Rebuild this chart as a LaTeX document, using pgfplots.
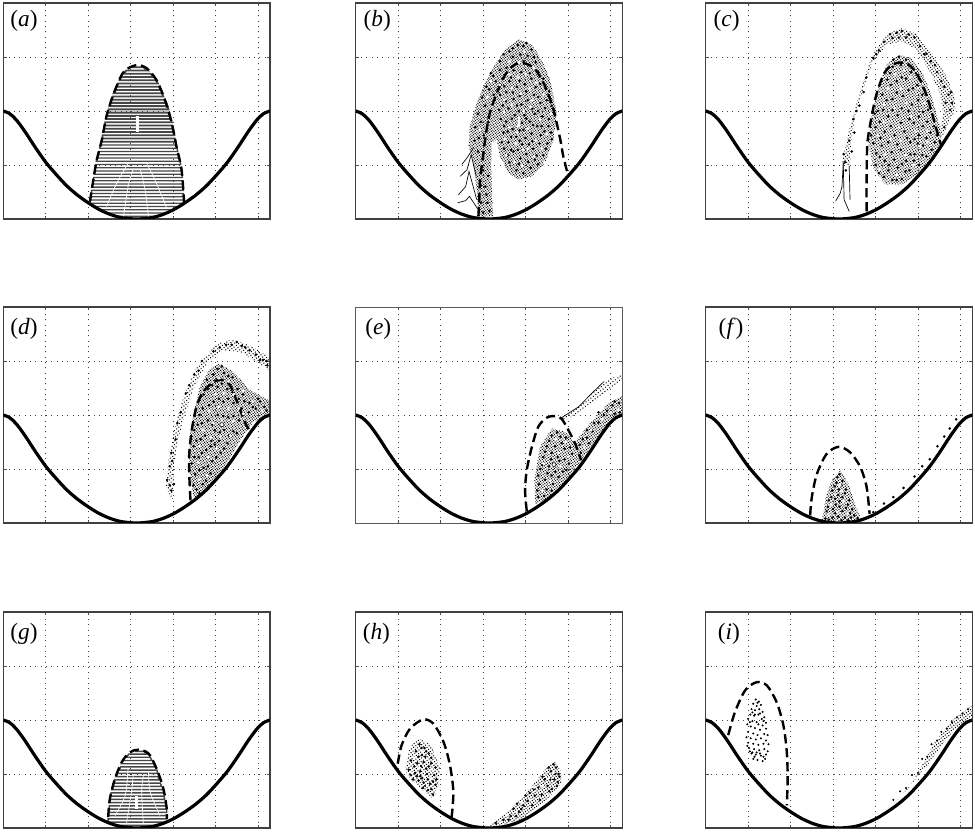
\documentclass[border=0pt]{standalone}
\usepackage{pgfplots}
\usepackage{pgfplotstable}
\usepackage{fontspec}
\usetikzlibrary{patterns.meta}
\setmainfont{Liberation Serif}
\pgfplotsset{compat=1.18}

\pgfplotstableread{
x y
0 2.00
0.15 1.95
0.30 1.84
0.50 1.63
0.75 1.33
1.00 1.05
1.25 0.82
1.50 0.61
1.75 0.44
2.00 0.30
2.25 0.18
2.50 0.09
2.75 0.03
3.00 0.005
3.14 0
3.28 0.005
3.53 0.03
3.78 0.09
4.03 0.18
4.28 0.30
4.53 0.44
4.78 0.61
5.03 0.82
5.28 1.05
5.53 1.33
5.78 1.63
5.98 1.84
6.13 1.95
6.283 2.00
}\potential

\tikzset{lab/.style={anchor=west, inner sep=0pt, font=\fontsize{17.5}{18}\selectfont}}
\pgfplotsset{
  panel/.style={
    scale only axis, width=200pt, height=162pt,
    anchor=south west,
    xmin=0, xmax=6.283, ymin=0, ymax=4,
    xtick={1,2,3,4,5,6}, ytick={1,2,3},
    xticklabels={}, yticklabels={},
    tick align=inside, major tick length=2.5pt,
    tick style={black!70, line width=0.6pt},
    axis line style={black!75, line width=0.9pt},
    grid=major,
    major grid style={black!75, line width=0.6pt, dash pattern=on 0.8pt off 3.2pt},
  },
  pot/.style={black, line width=2.4pt, smooth, no markers},
  sep/.style={black, line width=1.8pt, dash pattern=on 7pt off 3.5pt, smooth, tension=0.5, no markers},
  hatch/.style={black!72, no markers},
  cloud/.style={draw=none, pattern={Dots[radius=0.55pt, distance=#1, angle=37]}, pattern color=black},
  bk/.style={only marks, mark=*, mark size=0.75pt, black, mark options={draw=none, fill=black}},
  wh/.style={only marks, mark=*, mark size=0.8pt, white, mark options={draw=none, fill=white}},
  thin line/.style={black, line width=0.5pt, no markers},
  gap/.style={white, line width=0.5pt, smooth, no markers},
}

\begin{document}
\begin{tikzpicture}
\useasboundingbox (0,0) rectangle (731.25pt,624pt);

% (a)
\begin{axis}[panel, at={(2.5pt,459.75pt)}]
\addplot[hatch, line width=0.95pt] coordinates {
(2.62,0.05)(3.66,0.05)(3.86,0.11)(2.42,0.11)(2.28,0.17)(4.00,0.17)(4.12,0.23)(2.15,0.23)
(2.04,0.29)(4.24,0.29)(4.25,0.35)(2.05,0.35)(2.06,0.41)(4.25,0.41)(4.24,0.47)(2.07,0.47)
(2.08,0.53)(4.24,0.53)(4.23,0.59)(2.09,0.59)(2.10,0.65)(4.23,0.65)(4.22,0.71)(2.12,0.71)
(2.13,0.77)(4.22,0.77)(4.21,0.83)(2.14,0.83)(2.15,0.89)(4.20,0.89)(4.19,0.95)(2.17,0.95)
(2.18,1.01)(4.18,1.01)(4.16,1.07)(2.19,1.07)(2.21,1.13)(4.15,1.13)(4.13,1.19)(2.23,1.19)
(2.25,1.25)(4.11,1.25)(4.09,1.31)(2.27,1.31)(2.29,1.37)(4.07,1.37)};
\addplot[hatch, line width=1.35pt] coordinates {
(2.31,1.43)(4.06,1.43)(4.04,1.49)(2.33,1.49)(2.34,1.55)(4.03,1.55)(4.02,1.61)(2.36,1.61)
(2.37,1.67)(4.00,1.67)(3.98,1.73)(2.39,1.73)(2.40,1.79)(3.97,1.79)(3.95,1.85)(2.42,1.85)
(2.43,1.91)(3.93,1.91)(3.91,1.97)(2.46,1.97)(2.48,2.03)(3.89,2.03)(3.87,2.09)(2.50,2.09)
(2.53,2.15)(3.84,2.15)(3.80,2.21)(2.55,2.21)(2.58,2.27)(3.77,2.27)(3.74,2.33)(2.60,2.33)
(2.64,2.39)(3.70,2.39)(3.67,2.45)(2.67,2.45)(2.70,2.51)(3.64,2.51)(3.60,2.57)(2.74,2.57)
(2.77,2.63)(3.54,2.63)(3.47,2.69)(2.82,2.69)(2.90,2.75)(3.40,2.75)(3.30,2.81)(3.00,2.81)};
\addplot[gap] coordinates {(2.83,0.04)(2.94,0.60)(3.05,0.91)};
\addplot[gap] coordinates {(3.42,0.04)(3.34,0.54)(3.23,0.91)};
\addplot[gap] coordinates {(2.43,0.23)(2.67,0.66)(2.94,1.03)};
\addplot[gap] coordinates {(3.85,0.20)(3.61,0.66)(3.38,1.03)};
\addplot[white, line width=2.2pt, no markers] coordinates {(3.16,1.62)(3.16,1.90)};
\addplot[sep] coordinates {(2.04,0.32)(2.12,0.72)(2.20,1.09)(2.32,1.46)(2.43,1.90)(2.59,2.30)(2.79,2.67)(2.94,2.79)(3.16,2.85)(3.38,2.79)(3.61,2.57)(3.81,2.20)(3.97,1.77)(4.08,1.34)(4.20,0.91)(4.26,0.29)};
\addplot[pot] table {\potential};
\node[lab] at (axis cs:0.16,3.67) {(\textit{a})};
\end{axis}

% (b)
\begin{axis}[panel, at={(266.8pt,459.75pt)}]
\addplot[cloud=1.5pt] coordinates {(2.89,0.05)(2.85,0.54)(2.77,1.04)(2.66,1.35)(2.69,1.72)(2.85,2.15)(3.05,2.52)(3.28,2.86)(3.56,3.17)(3.83,3.33)(4.15,3.23)(4.38,2.95)(4.58,2.58)(4.74,1.96)(4.66,1.47)(4.46,1.04)(4.15,0.79)(3.83,0.73)(3.60,0.85)(3.40,1.16)(3.32,1.47)(3.20,1.41)(3.19,0.98)(3.21,0.54)(3.24,0.05)} -- cycle;
\addplot[bk] coordinates {
(3.50,1.30)(3.62,1.05)(3.78,0.90)(3.95,0.85)(4.12,0.95)(4.30,1.02)(4.42,1.18)(4.52,1.40)(4.60,1.60)(4.55,1.85)
(3.48,1.60)(3.60,1.42)(3.72,1.25)(3.88,1.12)(4.02,1.20)(4.18,1.30)(4.33,1.40)(4.44,1.62)(3.42,1.85)(3.55,1.80)
(3.70,1.66)(3.86,1.45)(4.00,1.50)(4.14,1.58)(4.28,1.72)(4.40,1.90)(4.62,2.10)(4.50,2.20)(3.46,2.10)(3.60,2.05)
(3.75,1.92)(3.92,1.78)(4.22,1.95)(4.35,2.15)(4.48,2.42)(3.40,2.30)(3.55,2.35)(3.72,2.22)(3.90,2.12)(4.05,2.20)
(4.20,2.30)(4.35,2.50)(3.30,2.55)(3.45,2.60)(3.62,2.55)(3.80,2.45)(3.98,2.50)(4.14,2.60)(4.30,2.72)(3.55,2.80)
(3.72,2.75)(3.90,2.72)(4.08,2.85)(3.70,3.00)(3.88,3.05)(4.05,3.02)(4.20,3.00)(3.82,3.22)(3.95,3.20)(3.48,3.05)
(2.90,1.50)(2.95,1.80)(3.05,2.10)(3.15,2.40)(3.25,2.30)(3.00,1.20)(3.00,0.90)(3.05,0.60)(3.10,0.30)(2.95,0.30)
(3.58,1.18)(3.82,1.28)(4.08,1.38)(4.22,1.10)(3.95,1.65)(3.66,1.52)(4.36,1.55)(3.84,2.00)(4.10,1.80)(4.30,2.00)
(3.44,1.42)(3.66,1.28)(3.84,1.02)(4.06,1.06)(4.26,1.18)(4.48,1.30)(4.62,1.48)(3.58,1.62)(3.78,1.52)(3.92,1.38)
(4.16,1.44)(4.38,1.72)(4.54,1.72)(3.50,1.72)(3.68,1.86)(3.86,1.64)(4.02,1.86)(4.18,1.74)(4.46,2.05)(3.38,2.02)
(3.54,2.18)(3.80,2.10)(3.98,1.92)(4.16,2.04)(4.30,2.26)(4.56,2.36)(3.34,2.40)(3.50,2.46)(3.70,2.34)(3.86,2.28)
(4.02,2.36)(4.24,2.44)(4.42,2.60)(3.24,2.65)(3.40,2.76)(3.66,2.62)(3.86,2.56)(4.10,2.70)(4.24,2.90)(3.62,3.10)
(3.78,2.88)(3.96,2.92)(4.14,3.14)(4.02,3.26)(3.70,3.16)(3.40,2.92)(3.18,2.70)(3.08,2.45)(2.98,2.25)(2.88,1.95)
(2.82,1.70)(2.80,1.45)(2.88,1.25)(3.02,1.55)(3.12,1.80)(3.12,0.80)(3.08,0.45)(3.15,0.15)(3.00,0.12)(2.95,0.62)};
\addplot[wh] coordinates {
(3.55,1.18)(3.74,1.05)(3.92,0.98)(4.20,1.16)(4.38,1.30)(4.50,1.58)(3.52,1.48)(3.78,1.40)(4.06,1.30)(4.24,1.45)
(3.62,1.70)(3.82,1.72)(4.05,1.68)(4.34,1.85)(3.50,1.98)(3.68,2.12)(3.96,2.00)(4.12,2.08)(4.42,2.30)(3.50,2.20)
(3.68,2.42)(3.88,2.32)(4.10,2.42)(4.26,2.52)(3.40,2.48)(3.62,2.68)(3.82,2.62)(4.00,2.68)(4.20,2.80)(3.84,2.90)
(3.62,2.92)(3.98,3.10)(3.10,2.25)(2.92,1.65)(3.18,2.55)(4.60,1.95)(4.44,1.05)(3.95,1.28)(3.80,1.60)(4.15,2.20)};
\addplot[white, line width=2pt, no markers] coordinates {(3.85,1.72)(3.85,1.88)};
\addplot[thin line] coordinates {(2.40,0.30)(2.59,0.34)(2.68,0.42)(2.87,0.19)};
\addplot[thin line] coordinates {(2.42,0.45)(2.59,0.60)(2.67,0.88)(2.85,0.36)};
\addplot[thin line] coordinates {(2.46,0.79)(2.62,0.91)(2.72,1.19)(2.84,0.79)};
\addplot[thin line] coordinates {(2.50,1.01)(2.62,1.13)(2.77,1.31)};
\addplot[sep] coordinates {(2.89,0.05)(2.91,0.36)(2.93,0.73)(2.99,1.10)(3.05,1.47)(3.14,1.90)(3.28,2.24)(3.52,2.67)(3.75,2.86)(3.99,2.88)(4.23,2.77)(4.46,2.46)(4.66,2.02)(4.82,1.47)(4.89,1.16)(5.00,0.82)};
\addplot[pot] table {\potential};
\node[lab] at (axis cs:0.18,3.67) {(\textit{b})};
\end{axis}

% (c)
\begin{axis}[panel, at={(529.3pt,459.75pt)}]
\addplot[cloud=1.9pt] coordinates {(3.21,1.04)(3.36,1.59)(3.60,2.27)(3.91,3.01)(4.23,3.38)(4.58,3.54)(4.93,3.44)(5.33,3.07)(5.68,2.64)(5.86,2.27)(5.88,2.02)(5.72,1.78)(5.55,1.47)(5.52,1.65)(5.60,1.96)(5.52,2.33)(5.25,2.77)(4.97,3.14)(4.62,3.29)(4.27,3.23)(3.91,2.89)(3.72,2.43)(3.52,1.93)(3.42,1.41)(3.40,0.98)} -- cycle;
\addplot[cloud=1.6pt] coordinates {(4.54,3.04)(4.85,2.98)(5.13,2.67)(5.33,2.27)(5.52,1.69)(5.55,1.41)(5.25,1.04)(4.93,0.79)(4.62,0.64)(4.23,0.64)(3.95,0.94)(3.83,1.41)(3.91,1.90)(4.07,2.46)(4.27,2.86)} -- cycle;
\addplot[bk] coordinates {
(4.00,1.00)(4.20,0.78)(4.40,0.72)(4.62,0.74)(4.80,0.90)(5.02,1.00)(5.20,1.16)(5.40,1.42)(4.10,1.15)(4.32,1.00)
(4.52,0.95)(4.72,1.08)(4.92,1.20)(5.12,1.36)(5.30,1.60)(3.95,1.40)(4.15,1.36)(4.38,1.24)(4.60,1.28)(4.82,1.42)
(5.02,1.55)(5.22,1.80)(4.00,1.70)(4.22,1.62)(4.45,1.55)(4.68,1.62)(4.90,1.78)(5.12,1.98)(5.30,2.05)(4.06,2.00)
(4.30,1.90)(4.52,1.92)(4.78,2.00)(5.00,2.20)(5.20,2.30)(4.16,2.30)(4.40,2.22)(4.65,2.28)(4.88,2.42)(5.08,2.55)
(4.28,2.58)(4.50,2.55)(4.72,2.60)(4.95,2.70)(4.40,2.82)(4.60,2.85)(4.78,2.85)(4.55,3.00)
(3.38,1.45)(3.48,1.85)(3.62,2.10)(3.78,2.62)(3.95,2.98)(4.20,3.28)(4.50,3.45)(4.78,3.42)(5.05,3.20)(5.30,2.92)
(5.55,2.55)(5.72,2.30)(5.76,2.02)(5.62,1.70)(4.40,3.35)(4.72,3.36)(5.15,3.05)(5.45,2.72)(3.25,1.20)(3.30,0.90)
(4.08,0.85)(4.30,0.90)(4.50,0.72)(4.70,0.88)(4.90,1.08)(5.10,1.18)(5.32,1.28)(5.45,1.55)(4.02,1.22)(4.22,1.08)
(4.44,1.10)(4.62,1.02)(4.82,1.20)(5.00,1.40)(5.20,1.50)(5.38,1.72)(3.90,1.55)(4.12,1.50)(4.30,1.42)(4.52,1.38)
(4.74,1.50)(4.92,1.48)(5.12,1.72)(4.10,1.80)(4.36,1.72)(4.60,1.78)(4.80,1.85)(5.02,1.90)(5.24,2.02)(3.98,1.95)
(4.18,2.02)(4.40,2.02)(4.62,2.05)(4.86,2.12)(5.10,2.30)(4.26,2.20)(4.50,2.34)(4.78,2.38)(4.98,2.48)(4.36,2.48)
(4.62,2.62)(4.84,2.72)(4.34,2.70)(4.72,2.95)(4.42,2.95)
(3.44,1.25)(3.55,2.00)(3.72,2.35)(3.86,2.80)(4.08,3.12)(4.34,3.42)(4.62,3.48)(4.92,3.36)(5.20,3.06)(5.40,2.85)
(5.62,2.45)(5.80,2.15)(5.78,2.35)(5.65,2.15)(4.55,3.36)(4.02,3.05)(3.50,1.60)(3.28,1.05)};
\addplot[wh] coordinates {
(4.10,0.92)(4.50,0.82)(4.90,1.00)(5.22,1.42)(4.22,1.20)(4.70,1.18)(5.05,1.35)(4.05,1.55)(4.35,1.48)(4.60,1.45)
(4.95,1.62)(5.22,1.62)(4.20,1.80)(4.55,1.70)(4.85,1.90)(5.15,2.15)(4.20,2.12)(4.45,2.05)(4.72,2.15)(5.00,2.42)
(4.30,2.42)(4.60,2.42)(4.82,2.62)(4.45,2.68)(4.68,2.75)(3.60,2.30)(3.85,2.80)(4.30,3.22)(4.88,3.30)(5.42,2.60)};
\addplot[thin line] coordinates {(3.06,0.33)(3.17,0.48)(3.21,0.60)(3.24,1.04)};
\addplot[thin line] coordinates {(3.38,0.14)(3.26,0.36)(3.24,1.04)};
\addplot[thin line] coordinates {(3.40,0.36)(3.38,0.98)};
\addplot[sep] coordinates {(3.79,0.14)(3.79,0.73)(3.81,1.41)(3.91,1.90)(4.03,2.33)(4.23,2.73)(4.50,2.89)(4.78,2.86)(5.01,2.64)(5.21,2.27)(5.33,1.96)(5.44,1.65)(5.55,1.35)};
\addplot[pot] table {\potential};
\node[lab] at (axis cs:0.18,3.67) {(\textit{c})};
\end{axis}

% (d)
\begin{axis}[panel, at={(2.5pt,231.75pt)}]
\addplot[cloud=2.1pt] coordinates {(3.82,0.67)(3.89,1.16)(4.00,1.65)(4.24,2.33)(4.55,2.89)(5.03,3.32)(5.42,3.40)(5.89,3.26)(6.27,3.07)(6.27,2.83)(5.97,2.98)(5.58,3.17)(5.18,3.20)(4.79,2.95)(4.48,2.49)(4.28,2.02)(4.12,1.53)(4.02,1.04)(3.99,0.42)} -- cycle;
\addplot[cloud=1.5pt] coordinates {(4.48,0.48)(4.38,1.04)(4.40,1.65)(4.48,2.02)(4.63,2.52)(4.87,2.86)(5.10,2.95)(5.42,2.80)(5.81,2.46)(6.27,2.27)(6.27,1.99)(5.89,1.87)(5.58,1.53)(5.26,1.10)(4.95,0.76)(4.59,0.45)} -- cycle;
\addplot[bk] coordinates {
(4.55,0.62)(4.70,0.72)(4.88,0.92)(4.52,0.90)(4.72,1.02)(4.92,1.14)(5.12,1.30)(4.50,1.22)(4.68,1.30)(4.88,1.42)
(5.08,1.52)(5.28,1.48)(4.55,1.52)(4.75,1.62)(4.98,1.72)(5.20,1.72)(5.42,1.70)(4.58,1.82)(4.82,1.90)(5.05,2.00)
(5.30,1.96)(5.55,1.90)(5.78,2.05)(4.70,2.12)(4.95,2.25)(5.18,2.25)(5.42,2.22)(5.68,2.25)(5.95,2.12)(6.15,2.15)
(4.82,2.48)(5.05,2.52)(5.28,2.48)(5.52,2.48)(4.95,2.75)(5.20,2.78)(5.40,2.70)(6.05,2.25)
(3.86,0.80)(3.92,1.05)(3.96,1.30)(4.10,1.85)(4.30,2.40)(4.60,2.82)(4.95,3.18)(5.38,3.30)(5.70,3.25)(5.95,3.12)
(6.12,3.02)(6.22,2.92)(5.62,3.28)(4.02,0.72)(3.96,0.60)
(4.62,0.55)(4.78,0.78)(4.48,0.70)(4.62,0.98)(4.82,1.05)(5.02,1.22)(4.44,1.10)(4.60,1.22)(4.78,1.35)(4.98,1.45)
(5.20,1.38)(4.48,1.42)(4.65,1.55)(4.90,1.52)(5.10,1.68)(5.32,1.62)(5.50,1.66)(4.50,1.72)(4.68,1.85)(4.92,1.82)
(5.18,1.98)(5.42,1.98)(5.62,2.12)(4.62,2.00)(4.85,2.18)(5.08,2.30)(5.30,2.30)(5.55,2.30)(5.80,2.22)(6.00,2.30)
(6.20,2.08)(4.72,2.38)(4.92,2.55)(5.15,2.58)(5.40,2.42)(5.65,2.38)(5.88,2.15)(5.05,2.85)(5.30,2.72)(4.80,2.65)(5.15,2.90)
(3.92,0.70)(3.98,1.15)(4.06,1.55)(4.18,2.05)(4.38,2.55)(4.68,3.00)(5.10,3.25)(5.50,3.35)(5.80,3.20)(6.05,3.02)
(6.20,3.00)(5.25,3.30)(4.50,2.75)};
\addplot[wh] coordinates {
(4.62,0.80)(4.80,0.88)(4.60,1.12)(4.82,1.22)(5.02,1.38)(4.62,1.42)(4.88,1.58)(5.12,1.60)(5.35,1.62)(4.70,1.72)
(4.95,1.85)(5.15,1.90)(5.42,1.88)(5.65,2.02)(4.85,2.08)(5.08,2.15)(5.30,2.12)(5.55,2.12)(5.88,2.25)(5.00,2.38)
(5.20,2.40)(5.42,2.38)(5.65,2.45)(5.08,2.68)(5.30,2.62)(6.10,2.08)};
\addplot[only marks, mark=*, mark size=1.6pt, mark options={draw=none, fill=white}] coordinates {(5.15,1.82)};
\addplot[sep] coordinates {(4.41,0.42)(4.38,0.91)(4.38,1.28)(4.44,1.72)(4.55,2.15)(4.71,2.43)(4.95,2.61)(5.14,2.65)(5.34,2.55)(5.51,2.24)(5.69,1.87)(5.80,1.72)};
\addplot[pot] table {\potential};
\node[lab] at (axis cs:0.16,3.60) {(\textit{d})};
\end{axis}

% (e)
\begin{axis}[panel, at={(266.8pt,231.75pt)}, axis line style={black!65, line width=0.5pt}]
\addplot[cloud=2.3pt] coordinates {(4.85,1.95)(5.25,2.15)(5.56,2.40)(5.88,2.61)(6.28,2.78)(6.28,2.67)(5.95,2.46)(5.64,2.24)(5.25,2.04)(4.89,1.89)} -- cycle;
\addplot[cloud=1.55pt] coordinates {(4.23,0.35)(4.21,0.79)(4.34,1.41)(4.62,1.75)(4.93,1.69)(5.17,1.50)(5.48,1.81)(5.95,2.21)(6.28,2.36)(6.28,1.99)(5.88,1.78)(5.40,1.25)(4.93,0.76)(4.46,0.42)} -- cycle;
\addplot[bk] coordinates {
(4.30,0.48)(4.32,0.72)(4.50,0.62)(4.65,0.72)(4.35,1.00)(4.52,0.92)(4.70,0.95)(4.88,0.95)(4.42,1.22)(4.60,1.18)
(4.80,1.15)(5.02,1.10)(4.50,1.42)(4.70,1.42)(4.92,1.38)(5.10,1.28)(4.62,1.62)(4.82,1.60)(5.28,1.45)(5.45,1.58)
(5.62,1.85)(5.85,2.00)(6.05,2.18)(6.20,2.22)(5.35,1.55)(5.72,2.05)(6.10,2.02)
(4.28,0.60)(4.44,0.50)(4.62,0.60)(4.78,0.85)(4.30,0.88)(4.46,0.80)(4.62,0.88)(4.96,0.98)(4.40,1.08)(4.56,1.05)
(4.76,1.22)(4.92,1.18)(4.46,1.32)(4.62,1.30)(4.85,1.48)(5.05,1.40)(4.56,1.52)(4.75,1.68)(4.95,1.58)(5.30,1.30)
(5.50,1.48)(5.58,1.70)(5.72,1.86)(5.92,2.08)(6.10,2.25)(6.22,2.05)(5.45,1.72)};
\addplot[wh] coordinates {
(4.40,0.60)(4.58,0.78)(4.42,1.10)(4.62,1.05)(4.82,1.05)(4.55,1.30)(4.78,1.30)(5.00,1.22)(4.72,1.55)(4.95,1.50)
(5.38,1.40)(5.55,1.72)(5.80,1.92)(6.00,2.05)(6.18,2.10)};
\addplot[only marks, mark=*, mark size=1.5pt, mark options={draw=none, fill=white}] coordinates {(4.67,1.08)};
\addplot[thin line] coordinates {(4.85,1.95)(5.25,2.15)(5.56,2.40)(5.85,2.62)};
\addplot[sep] coordinates {(4.03,0.22)(3.99,0.60)(4.03,0.98)(4.15,1.41)(4.30,1.78)(4.50,1.95)(4.70,1.98)(4.85,1.93)(5.01,1.72)(5.17,1.47)(5.31,1.16)};
\addplot[pot] table {\potential};
\node[lab] at (axis cs:0.22,3.60) {(\textit{e})};
\end{axis}

% (f)
\begin{axis}[panel, at={(529.3pt,231.75pt)}]
\addplot[cloud=1.6pt] coordinates {(3.18,0.98)(3.36,0.73)(3.52,0.36)(3.64,0.11)(3.52,0.04)(2.73,0.04)(2.77,0.17)(2.83,0.48)(2.97,0.79)} -- cycle;
\addplot[bk] coordinates {
(3.15,0.90)(3.08,0.75)(3.22,0.78)(2.98,0.60)(3.14,0.62)(3.30,0.62)(2.90,0.42)(3.05,0.45)(3.22,0.48)(3.38,0.42)
(2.85,0.22)(3.00,0.26)(3.15,0.30)(3.30,0.28)(3.45,0.25)(2.82,0.08)(2.98,0.10)(3.12,0.12)(3.28,0.10)(3.42,0.10)(3.58,0.09)
(3.10,0.85)(3.20,0.70)(3.04,0.68)(3.12,0.52)(3.28,0.55)(2.96,0.48)(3.15,0.40)(3.35,0.34)(2.88,0.30)(3.06,0.34)
(3.22,0.22)(3.40,0.18)(2.90,0.06)(3.05,0.18)(3.20,0.05)(3.35,0.05)(3.50,0.14)
(3.95,0.20)(4.20,0.36)(4.42,0.48)(4.66,0.65)(4.92,0.86)(5.10,1.05)(5.28,1.18)(5.46,1.42)(5.62,1.60)(5.75,1.75)(5.90,1.92)};
\addplot[wh] coordinates {
(3.17,0.70)(3.05,0.52)(3.25,0.40)(2.95,0.34)(3.10,0.20)(3.34,0.18)(2.90,0.14)(3.20,0.60)};
\addplot[sep] coordinates {(2.46,0.14)(2.50,0.48)(2.62,0.91)(2.85,1.28)(3.13,1.41)(3.40,1.31)(3.64,1.04)(3.79,0.67)(3.86,0.17)};
\addplot[pot] table {\potential};
\node[lab] at (axis cs:0.30,3.60) {(\textit{f})};
\end{axis}

% (g)
\begin{axis}[panel, at={(2.5pt,3pt)}]
\addplot[hatch, line width=1.1pt] coordinates {
(2.66,0.05)(3.64,0.05)(3.83,0.11)(2.47,0.11)(2.47,0.17)(3.85,0.17)(3.85,0.23)(2.47,0.23)
(2.48,0.29)(3.85,0.29)(3.85,0.35)(2.49,0.35)(2.50,0.41)(3.83,0.41)(3.82,0.47)(2.50,0.47)
(2.51,0.53)(3.80,0.53)(3.79,0.59)(2.52,0.59)(2.54,0.65)(3.78,0.65)(3.77,0.71)(2.56,0.71)
(2.58,0.77)(3.73,0.77)(3.70,0.83)(2.60,0.83)(2.62,0.89)(3.67,0.89)(3.65,0.95)(2.65,0.95)
(2.69,1.01)(3.64,1.01)(3.62,1.07)(2.73,1.07)(2.76,1.13)(3.58,1.13)(3.54,1.19)(2.78,1.19)
(2.83,1.25)(3.50,1.25)(3.46,1.31)(2.89,1.31)(2.96,1.37)(3.42,1.37)(3.30,1.42)(3.10,1.42)};
\addplot[gap] coordinates {(2.90,0.08)(3.02,0.67)(3.06,0.98)};
\addplot[gap] coordinates {(3.30,0.08)(3.26,0.67)(3.30,0.98)};
\addplot[gap] coordinates {(2.63,0.23)(2.87,0.60)(2.94,1.10)};
\addplot[gap] coordinates {(3.69,0.23)(3.46,0.67)(3.42,1.04)};
\addplot[white, line width=2.2pt, no markers] coordinates {(3.14,0.36)(3.14,0.60)};
\addplot[sep] coordinates {(2.47,0.20)(2.51,0.54)(2.63,0.91)(2.79,1.22)(2.98,1.40)(3.18,1.45)(3.42,1.38)(3.61,1.10)(3.77,0.73)(3.85,0.36)(3.85,0.17)};
\addplot[pot] table {\potential};
\node[lab] at (axis cs:0.16,3.60) {(\textit{g})};
\end{axis}

% (h)
\begin{axis}[panel, at={(266.8pt,3pt)}]
\addplot[cloud=2.0pt] coordinates {(1.52,1.65)(1.79,1.53)(1.99,1.10)(1.95,0.79)(1.83,0.54)(1.63,0.67)(1.32,0.88)(1.16,1.07)(1.24,1.41)(1.36,1.59)} -- cycle;
\addplot[cloud=1.8pt] coordinates {(3.13,0.04)(3.52,0.27)(3.91,0.54)(4.23,0.85)(4.54,1.16)(4.70,1.22)(4.84,1.04)(4.84,0.82)(4.46,0.48)(3.91,0.17)(3.44,0.05)} -- cycle;
\addplot[bk] coordinates {
(1.50,1.55)(1.62,1.48)(1.42,1.42)(1.56,1.35)(1.72,1.38)(1.30,1.25)(1.45,1.20)(1.60,1.22)(1.78,1.20)(1.88,1.12)
(1.25,1.08)(1.40,1.02)(1.52,1.05)(1.68,1.00)(1.85,0.98)(1.35,0.90)(1.48,0.88)(1.60,0.84)(1.75,0.82)(1.88,0.80)
(1.58,0.74)(1.70,0.70)(1.82,0.62)(1.66,1.10)(1.52,0.96)(1.56,0.92)
(3.30,0.09)(3.48,0.15)(3.65,0.22)(3.72,0.36)(3.85,0.30)(3.95,0.42)(4.05,0.50)(4.10,0.65)(4.22,0.60)(4.30,0.75)
(4.38,0.62)(4.45,0.90)(4.52,0.78)(4.60,1.05)(4.68,0.90)(4.72,1.12)(4.78,1.00)(4.62,0.72)(4.76,0.85)(3.80,0.45)
(1.55,1.48)(1.66,1.42)(1.48,1.32)(1.64,1.32)(1.78,1.30)(1.38,1.14)(1.54,1.14)(1.72,1.14)(1.90,0.90)(1.30,0.98)
(1.44,0.96)(1.70,0.90)(1.82,0.86)(1.64,0.78)(1.78,0.72)
(3.60,0.15)(3.78,0.22)(3.90,0.35)(4.00,0.60)(4.16,0.42)(4.20,0.72)(4.34,0.52)(4.40,0.95)(4.56,0.68)(4.58,0.90)
(4.70,1.00)(4.74,0.78)(4.80,0.95)(4.55,1.12)(4.66,1.18)};
\addplot[wh] coordinates {
(1.58,1.42)(1.38,1.30)(1.68,1.28)(1.50,1.12)(1.80,1.08)(1.32,1.02)(1.62,0.95)(1.78,0.92)(1.68,0.78)
(3.40,0.10)(3.58,0.25)(3.78,0.30)(3.90,0.48)(4.12,0.52)(4.20,0.75)(4.40,0.78)(4.55,0.92)(4.66,1.02)(4.52,0.62)};
\addplot[sep] coordinates {(0.99,1.19)(1.08,1.53)(1.28,1.84)(1.59,2.01)(1.83,1.93)(2.07,1.59)(2.22,1.16)(2.30,0.67)(2.26,0.20)};
\addplot[pot] table {\potential};
\node[lab] at (axis cs:0.16,3.60) {(\textit{h})};
\end{axis}

% (i)
\begin{axis}[panel, at={(529.3pt,3pt)}]
\addplot[cloud=1.9pt] coordinates {(4.30,0.36)(4.78,0.73)(5.09,1.16)(5.40,1.59)(5.80,1.99)(6.28,2.27)(6.28,2.06)(5.88,1.84)(5.56,1.53)(5.25,1.19)(4.85,0.82)(4.46,0.48)} -- cycle;
\addplot[only marks, mark=*, mark size=0.55pt, mark options={draw=none, fill=black!80}] coordinates {
(1.18,2.38)(1.25,2.34)(1.12,2.30)(1.20,2.26)(1.30,2.28)(1.08,2.20)(1.16,2.18)(1.26,2.20)(1.34,2.15)(1.05,2.10)
(1.14,2.08)(1.24,2.10)(1.38,2.05)(1.32,2.02)(1.00,2.02)(1.10,1.98)(1.20,1.96)(1.42,1.95)(1.34,1.90)(0.98,1.92)
(1.06,1.88)(1.16,1.85)(1.28,1.82)(1.42,1.84)(1.00,1.78)(1.12,1.75)(1.38,1.74)(1.46,1.72)(0.96,1.68)(1.06,1.66)
(1.18,1.64)(1.30,1.66)(1.42,1.62)(1.00,1.58)(1.12,1.56)(1.24,1.54)(1.36,1.56)(1.48,1.55)(1.02,1.48)(1.14,1.46)
(1.26,1.44)(1.38,1.46)(1.46,1.42)(1.08,1.38)(1.18,1.36)(1.30,1.34)(1.42,1.36)(1.12,1.28)(1.22,1.26)(1.34,1.24)
(1.40,1.28)(1.04,1.42)(0.98,1.52)(1.22,1.72)(1.10,1.40)(1.28,1.38)(1.15,1.32)(1.36,1.32)(1.20,1.40)(1.24,1.92)
(1.10,2.14)(1.28,2.12)(1.04,1.96)(1.36,1.98)(1.22,2.32)(1.16,2.10)};
\addplot[bk, mark size=0.55pt] coordinates {
(4.42,0.52)(4.58,0.68)(4.72,0.74)(4.86,0.98)(5.00,1.02)(5.10,1.28)(5.22,1.32)(5.32,1.55)(5.45,1.62)(5.55,1.78)
(5.68,1.84)(5.80,1.96)(5.92,2.05)(6.05,2.12)(6.18,2.20)};
\addplot[sep] coordinates {(0.53,1.72)(0.69,2.15)(0.93,2.55)(1.20,2.70)(1.44,2.64)(1.67,2.33)(1.83,1.90)(1.91,1.41)(1.93,0.91)(1.91,0.42)};
\addplot[pot] table {\potential};
\node[lab] at (axis cs:0.28,3.60) {(\textit{i})};
\end{axis}
\end{tikzpicture}
\end{document}
